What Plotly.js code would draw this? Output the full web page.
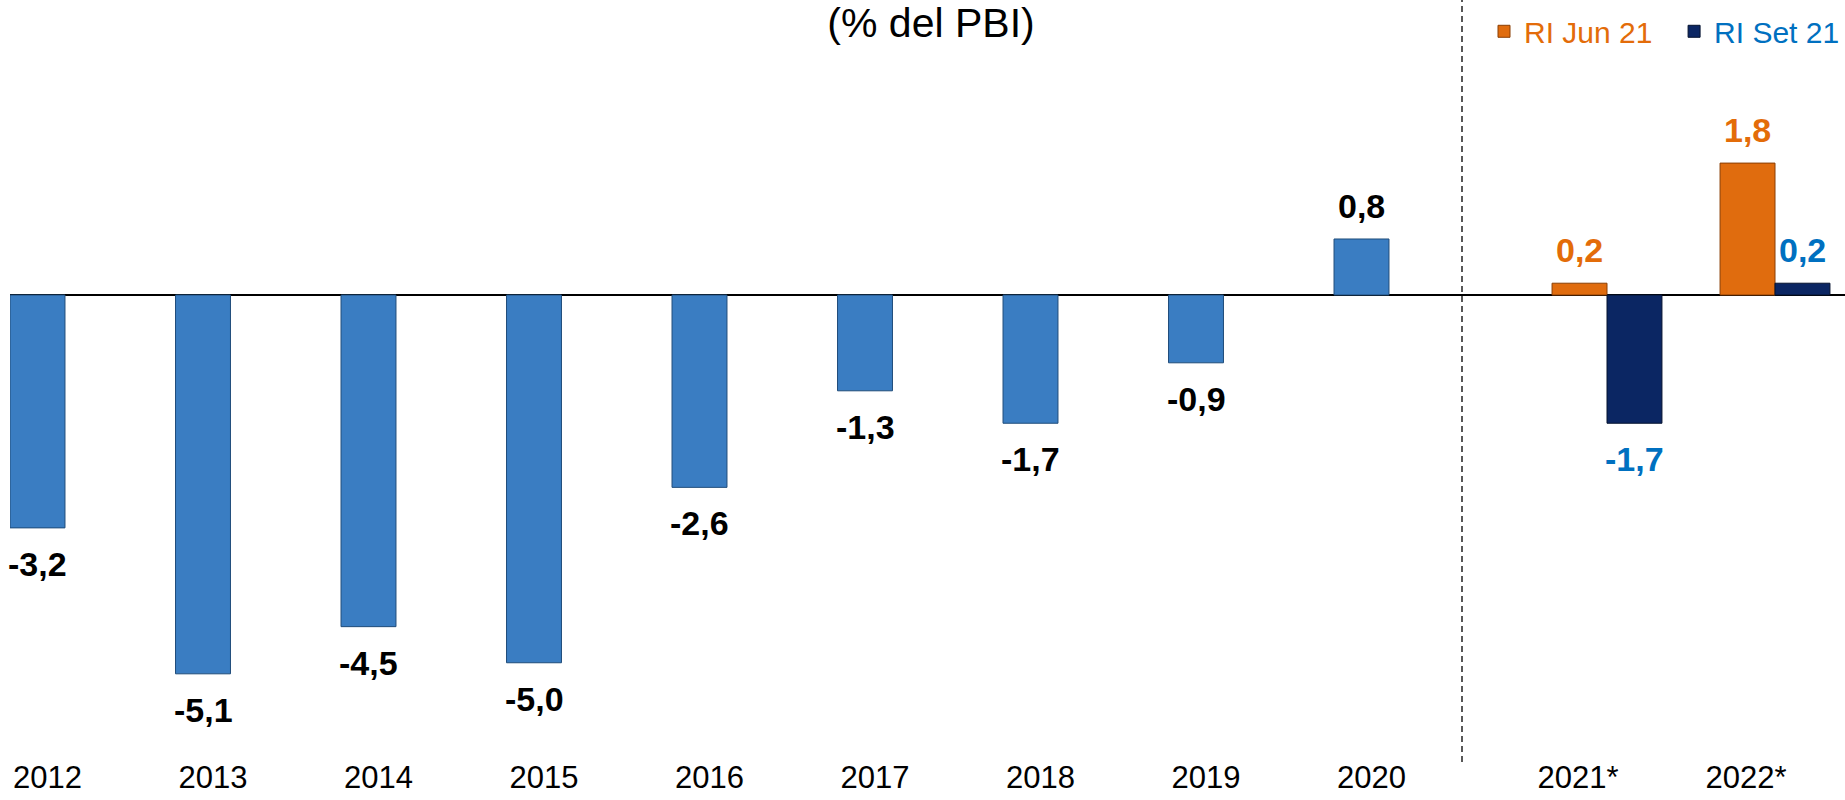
<!DOCTYPE html>
<html>
<head>
<meta charset="utf-8">
<script src="https://cdn.plot.ly/plotly-3.0.1.min.js"></script>
<style>html,body{margin:0;padding:0;background:#fff;}#chart{width:1845px;height:800px;}</style>
</head>
<body>
<div id="chart"></div>
<script>
// ---- data ----
const histYears = ['2012','2013','2014','2015','2016','2017','2018','2019','2020'];
const histValues = [-3.16, -5.14, -4.50, -4.99, -2.61, -1.30, -1.74, -0.92, 0.76];
const projYears = ['2021*','2022*'];
const riJun21 = [0.16, 1.79];
const riSet21 = [-1.74, 0.16];
const seriesNames = ['RI Jun 21','RI Set 21'];
const titleText = '(% del PBI)';

// ---- styles ----
const FONT = '"Liberation Sans", Arial, sans-serif';
const cBlue = '#3A7DC2', cOrange = '#E06C0E', cNavy = '#0B2663';
const cOrangeTxt = '#E36C09', cBlueTxt = '#0070C0';
const W = 1845, H = 800;
const HIST_W = 0.332, PROJ_W = 0.327;
const JUN_OFF = -PROJ_W, SET_OFF = 0;
const NBSP = '\u00A0';
const fmt = v => v.toFixed(1).replace('.', ',');

const traces = [
  {type:'bar', x: histYears, y: histValues, xaxis:'x', yaxis:'y', width: HIST_W,
   marker:{color:cBlue, line:{color:'#1F4C7A', width:1}}, showlegend:false, hoverinfo:'x+y'},
  {type:'bar', x: projYears, y: riJun21, xaxis:'x2', yaxis:'y2', width: PROJ_W, offset: JUN_OFF,
   name:'<span style="color:'+cOrangeTxt+'">'+seriesNames[0]+NBSP+NBSP+'</span>',
   marker:{color:cOrange, line:{color:'#8A3F05', width:1}}},
  {type:'bar', x: projYears, y: riSet21, xaxis:'x2', yaxis:'y2', width: PROJ_W, offset: SET_OFF,
   name:'<span style="color:'+cBlueTxt+'">'+seriesNames[1]+'</span>',
   marker:{color:cNavy, line:{color:'#05122F', width:1}}}
];

// labels: x given as category index (+ bar offset for grouped bars)
function labelAnn(vs, xref, color, shift) {
  return vs.map((v, i) => ({
    x: i + shift, y: v, xref: xref, yref: 'y', text: '<b>' + fmt(v) + '</b>',
    showarrow: false, font: {family: FONT, size: 34, color: color},
    yanchor: v < 0 ? 'top' : 'bottom', yshift: v < 0 ? -15 : 12
  }));
}
const anns = [].concat(
  labelAnn(histValues, 'x', '#000000', 0),
  labelAnn(riJun21, 'x2', cOrangeTxt, JUN_OFF + PROJ_W / 2),
  labelAnn(riSet21, 'x2', cBlueTxt, SET_OFF + PROJ_W / 2)
);

const zeroY = 295, pxPerUnit = 73.7, plotBottom = 756;
const sepX = 1462;
const layout = {
  width: W, height: H,
  margin: {l:0, r:0, t:0, b:H - plotBottom, pad:0, autoexpand:false},
  paper_bgcolor:'#fff', plot_bgcolor:'#fff',
  font: {family: FONT, color:'#000'},
  title: {text: titleText, font:{family: FONT, size: 41, color:'#000'},
          x: 931 / W, xanchor:'center', xref:'container', y: 0.99, yanchor:'top', yref:'container', pad:{t:0,b:0}},
  showlegend: true,
  legend: {orientation:'h', x: 1, xanchor:'right', y: 0.993, yanchor:'top',
           font:{family: FONT, size: 30}, bgcolor:'rgba(0,0,0,0)', traceorder:'normal'},
  xaxis: {domain:[10 / W, sepX / W], range:[-(37.5 - 10) / 165.5, (sepX - 37.5) / 165.5],
          type:'category', showgrid:false, showline:false, zeroline:false, ticks:'',
          tickfont:{family: FONT, size: 31, color:'#000'}, ticklabelshift: 10, fixedrange:true},
  xaxis2: {domain:[sepX / W, 1], range:[-(1607 - sepX) / 168, (W - 1607) / 168],
           type:'category', anchor:'y2', showgrid:false, showline:false, zeroline:false, ticks:'',
           tickfont:{family: FONT, size: 31, color:'#000'}, ticklabelshift: -29, fixedrange:true},
  yaxis: {range:[-(plotBottom - zeroY) / pxPerUnit, zeroY / pxPerUnit], showgrid:false,
          showticklabels:false, zeroline:true, zerolinecolor:'#000', zerolinewidth:1.5, showline:false},
  yaxis2: {anchor:'x2', matches:'y', showgrid:false, showticklabels:false,
           zeroline:true, zerolinecolor:'#000', zerolinewidth:1.5, showline:false},
  annotations: anns,
  shapes: [{type:'line', xref:'paper', yref:'paper', x0: sepX / W, x1: sepX / W,
            y0: -6 / plotBottom, y1: 1, line:{color:'#222', width:1.5, dash:'6px,4px'}}]
};

Plotly.newPlot('chart', traces, layout, {displayModeBar:false, staticPlot:true});
</script>
</body>
</html>
